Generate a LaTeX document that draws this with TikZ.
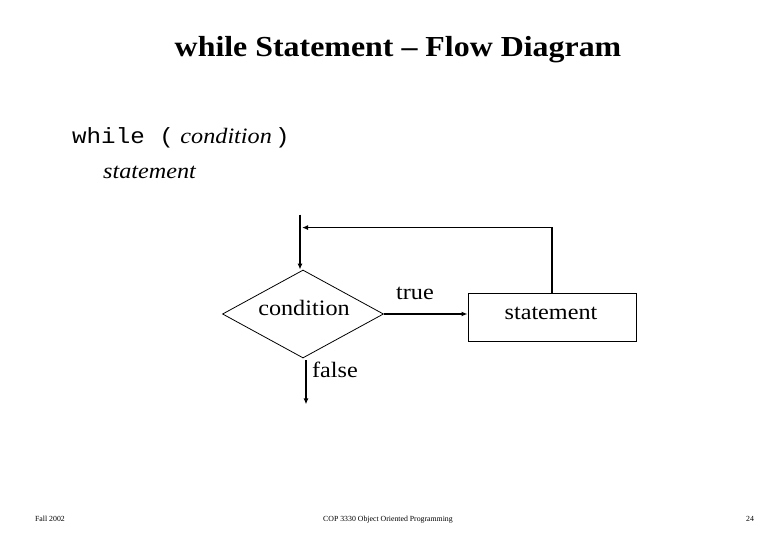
\documentclass[tikz,border=0pt]{standalone}
\usepackage{fontspec}
\usepackage{graphicx}
\setmainfont{Liberation Serif}
\setmonofont{Liberation Mono}
\usetikzlibrary{shapes.geometric,arrows.meta,calc}
\newcommand{\sx}[1]{\scalebox{1.1}[1]{#1}}
\begin{document}
\begin{tikzpicture}[x=1pt,y=-1pt,
  arr/.style={line width=1.8pt,-{Latex[length=6pt,width=5pt]}},
  lbl/.style={inner sep=0pt,font=\fontsize{22}{26}\selectfont},
  foot/.style={inner sep=0pt,anchor=base,font=\fontsize{7.8}{9}\selectfont}]
\useasboundingbox (0,0) rectangle (780,540);
\node[inner sep=0pt,font=\fontsize{29}{34}\selectfont\bfseries] (title) at (398,50) {\sx{while Statement -- Flow Diagram}};
\node[inner sep=0pt,anchor=base west,font=\fontsize{22}{26}\selectfont] (code1) at (72,144) {\sx{\texttt{while (}\hspace{6pt}\textit{condition}\hspace{3pt}\texttt{)}}};
\node[inner sep=0pt,anchor=base west,font=\fontsize{22}{26}\selectfont] (code2) at (103,179) {\sx{\textit{statement}}};
\node[draw,line width=0.8pt,diamond,aspect=1.83,minimum width=161pt,minimum height=88pt,inner sep=0pt] (cond) at (303,314) {};
\node[lbl] (condtxt) at (304,308) {\sx{condition}};
\node[draw,line width=1pt,minimum width=168pt,minimum height=48pt,inner sep=0pt] (stmt) at (552,318) {};
\node[lbl] (stmttxt) at (551,313) {\sx{statement}};
\node[lbl] (truelbl) at (415,293) {\sx{true}};
\node[lbl] (falselbl) at (335,370) {\sx{false}};
\coordinate (start) at ($(cond.north)+(-3,-55)$);
\coordinate (join) at ($(cond.north)+(-1,-42)$);
\coordinate (exitA) at ($(cond.south)+(3,2)$);
\coordinate (exitB) at ($(cond.south)+(3,46)$);
\draw[arr] (start) -- ($(cond.north)+(-3,0)$);
\draw[arr] (stmt.north) |- (join);
\draw[arr] (cond.east) -- (cond.east -| stmt.west);
\draw[arr] (exitA) -- (exitB);
\node[foot] (f1) at (50,521) {Fall 2002};
\node[foot] (f2) at (388,521) {COP 3330 Object Oriented Programming};
\node[foot] (f3) at (750,521) {24};
\end{tikzpicture}
\end{document}
